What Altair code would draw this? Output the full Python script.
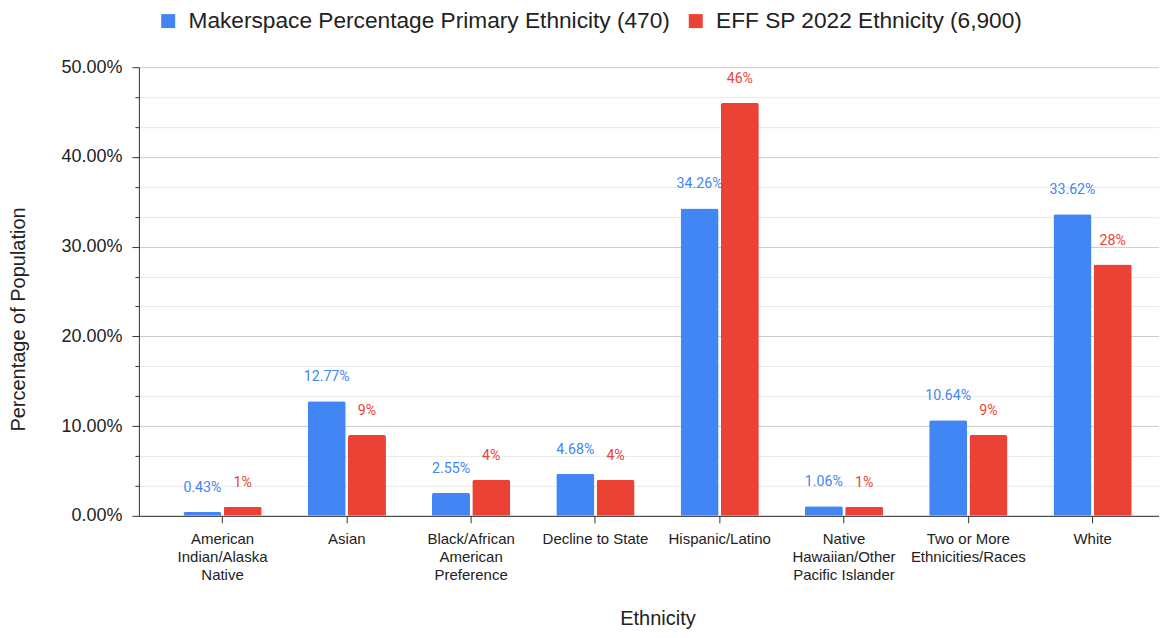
import altair as alt
import pandas as pd

categories = [
    "American Indian/Alaska Native",
    "Asian",
    "Black/African American Preference",
    "Decline to State",
    "Hispanic/Latino",
    "Native Hawaiian/Other Pacific Islander",
    "Two or More Ethnicities/Races",
    "White",
]
label_lines = [
    ["American", "Indian/Alaska", "Native"],
    ["Asian"],
    ["Black/African", "American", "Preference"],
    ["Decline to State"],
    ["Hispanic/Latino"],
    ["Native", "Hawaiian/Other", "Pacific Islander"],
    ["Two or More", "Ethnicities/Races"],
    ["White"],
]
series_names = [
    "Makerspace Percentage Primary Ethnicity (470)",
    "EFF SP 2022 Ethnicity (6,900)",
]
makerspace = [0.43, 12.77, 2.55, 4.68, 34.26, 1.06, 10.64, 33.62]
eff = [1, 9, 4, 4, 46, 1, 9, 28]
colors = ["#4285f4", "#ea4335"]
y_tick_values = [0, 3.3333, 6.6667, 10, 13.3333, 16.6667, 20, 23.3333, 26.6667,
                 30, 33.3333, 36.6667, 40, 43.3333, 46.6667, 50]

rows = []
for c, v in zip(categories, makerspace):
    rows.append({"category": c, "series": series_names[0], "value": v, "label": f"{v:.2f}%"})
for c, v in zip(categories, eff):
    rows.append({"category": c, "series": series_names[1], "value": v, "label": f"{v:.0f}%"})
df = pd.DataFrame(rows)

# x label expression: split each category into its wrapped lines
expr = "'" + "|".join(label_lines[-1]) + "'"
for c, lines in reversed(list(zip(categories[:-1], label_lines[:-1]))):
    expr = f"datum.label == '{c}' ? '{'|'.join(lines)}' : ({expr})"
x_label_expr = f"split({expr}, '|')"

major_test = "abs(datum.value/10 - round(datum.value/10)) < 0.001"

FONT = "Liberation Sans"

x_enc = alt.X(
    "category:N",
    sort=categories,
    title="Ethnicity",
    scale=alt.Scale(paddingInner=0.3706, paddingOuter=0.289, align=0.62),
    axis=alt.Axis(
        labelAngle=0,
        labelExpr=x_label_expr,
        labelFont=FONT,
        labelFontSize=15,
        labelColor="#222222",
        labelLineHeight=18,
        labelBaseline="top",
        labelPadding=9,
        labelLimit=300,
        tickSize=7,
        tickColor="#333333",
        domainColor="#333333",
        grid=False,
        titleFont=FONT,
        titleFontSize=20,
        titleFontWeight="normal",
        titleColor="#222222",
        titleX=519,
        titleY=103,
        titleBaseline="middle",
        titleAlign="center",
    ),
)
y_enc = alt.Y(
    "value:Q",
    title="Percentage of Population",
    scale=alt.Scale(domain=[0, 50], nice=False),
    axis=alt.Axis(
        values=y_tick_values,
        tickCount=40,
        labelExpr=f"{major_test} ? format(datum.value/100, '.2%') : ''",
        labelOverlap=False,
        labelFont=FONT,
        labelFontSize=18,
        labelColor="#222222",
        labelPadding=10,
        tickSize={"condition": {"test": major_test, "value": 7}, "value": 4},
        tickColor="#333333",
        domainColor="#333333",
        gridColor={"condition": {"test": major_test, "value": "#cccccc"}, "value": "#e8e8e8"},
        titleFont=FONT,
        titleFontSize=20,
        titleFontWeight="normal",
        titleColor="#222222",
        titleAngle=-90,
        titleX=-120,
        titleY=252,
        titleBaseline="middle",
        titleAlign="center",
    ),
)
xoff = alt.XOffset(
    "series:N",
    sort=series_names,
    scale=alt.Scale(domain=series_names, paddingInner=0.057, paddingOuter=0),
)

bars = alt.Chart(df).mark_bar(cornerRadiusTopLeft=2, cornerRadiusTopRight=2).encode(
    x=x_enc,
    y=y_enc,
    xOffset=xoff,
    color=alt.Color(
        "series:N",
        sort=series_names,
        scale=alt.Scale(domain=series_names, range=colors),
        legend=alt.Legend(
            title=None,
            orient="none",
            direction="horizontal",
            legendX=18,
            legendY=-58,
            symbolType="square",
            symbolSize=196,
            symbolStrokeWidth=0,
            labelFont=FONT,
            labelFontSize=22.7,
            labelColor="#222222",
            labelOffset=9,
            labelLimit=800,
            columnPadding=14,
        ),
    ),
)

texts = alt.Chart(df).mark_text(
    baseline="middle", dy=-24, font="Roboto", fontSize=14.2
).encode(
    x=alt.X("category:N", sort=categories),
    y=alt.Y("value:Q"),
    xOffset=alt.XOffset("series:N", sort=series_names),
    text="label:N",
    color=alt.condition(
        alt.datum.series == series_names[0], alt.value(colors[0]), alt.value(colors[1])
    ),
)

chart = (
    alt.layer(bars, texts)
    .properties(width=1021, height=449, padding={"left": 0, "top": 1, "right": 0, "bottom": 0}, background="white")
    .configure_view(stroke=None)
)

chart.save("out.html", embed_options={"renderer": "svg", "actions": False})
